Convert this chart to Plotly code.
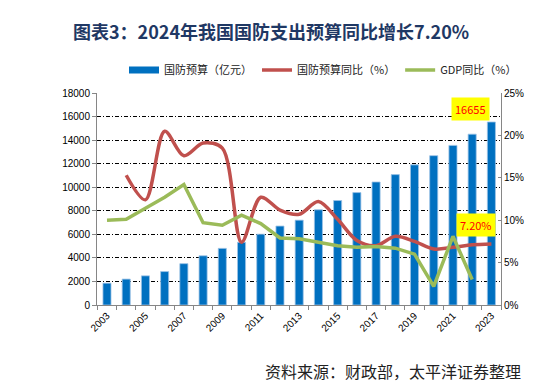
import plotly.graph_objects as go

years = list(range(2003, 2024))
budget = [1853, 2200, 2475, 2838, 3509, 4178, 4807, 5321, 6011, 6703, 7202,
          8082, 8869, 9544, 10444, 11070, 11899, 12680, 13553, 14505, 15537]
yoy_years = years[1:]
budget_yoy = [15.3, 12.4, 20.5, 17.6, 19.1, 18.5, 7.4, 12.7, 11.2, 10.7, 12.2,
              10.1, 7.6, 7.0, 8.1, 7.5, 6.6, 6.8, 7.1, 7.2]
gdp_years = years[:-1]
gdp_yoy = [10.0, 10.1, 11.4, 12.7, 14.2, 9.7, 9.4, 10.6, 9.6, 7.9, 7.8, 7.4,
           7.0, 6.8, 6.9, 6.7, 6.0, 2.2, 8.1, 3.0]
tick_years = years[::2]
left_ticks = list(range(0, 18001, 2000))
right_ticks = [0, 5, 10, 15, 20, 25]
label_budget = "16655"
label_yoy = "7.20%"

CJK = "Noto Sans CJK SC"
BLUE = "#0070C0"
fig = go.Figure()
fig.add_trace(go.Bar(
    x=years, y=budget, name="国防预算（亿元）", width=0.42, showlegend=False,
    legendgroup="b",
    marker=dict(color=BLUE, line=dict(color="#9DC3E6", width=0.8)),
))
# legend-only entry giving the wide rectangular swatch of the bar series
fig.add_trace(go.Scatter(
    x=[None], y=[None], name="国防预算（亿元）", legendgroup="b", mode="lines",
    line=dict(color=BLUE, width=7),
))
fig.add_trace(go.Scatter(
    x=yoy_years, y=budget_yoy, name="国防预算同比（%）", yaxis="y2",
    mode="lines", line=dict(color="#C0504D", width=3.5, shape="spline", smoothing=0.9),
))
fig.add_trace(go.Scatter(
    x=gdp_years, y=gdp_yoy, name="GDP同比（%）", yaxis="y2",
    mode="lines", line=dict(color="#9BBB59", width=3.5),
))

fig.add_annotation(x=2022, y=16655, xref="x", yref="y", text=label_budget,
                   showarrow=False, bgcolor="#FFFF00", font=dict(color="#FF0000", size=11, family=CJK),
                   borderpad=3, xshift=-2)
fig.add_annotation(x=2022.2, y=9.4, xref="x", yref="y2", text=label_yoy,
                   showarrow=False, bgcolor="#FFFF00", font=dict(color="#FF0000", size=11, family=CJK),
                   borderpad=3)

# title (centre at x~268px, y~32px)
fig.add_annotation(x=(263 - 89) / 404, y=1 + (85 - 32) / 212, xref="paper", yref="paper",
                   xanchor="center", yanchor="middle", yshift=9,
                   text="<b>图表3：2024年我国国防支出预算同比增长7.20%</b>",
                   showarrow=False, font=dict(color="#1F3864", size=18, family=CJK))
# source (right end at x~518px, centre y~370px)
fig.add_annotation(x=(515 - 89) / 404, y=-(370 - 297) / 212, xref="paper", yref="paper",
                   xanchor="right", yanchor="middle", yshift=7,
                   text="资料来源：财政部，太平洋证券整理", showarrow=False,
                   font=dict(color="#222222", size=16, family=CJK))

grid = dict(showgrid=True, gridcolor="#000000", gridwidth=1, griddash="4px,2px,1px,2px")
fig.update_layout(
    width=555, height=390,
    margin=dict(l=89, r=62, t=85, b=93, autoexpand=False),
    paper_bgcolor="white", plot_bgcolor="white",
    font=dict(family="Liberation Sans", size=10, color="#000000"),
    showlegend=True,
    legend=dict(orientation="h", xref="container", yref="container",
                x=116 / 555, y=1 - 62 / 390, xanchor="left", yanchor="middle",
                font=dict(family=CJK, size=11, color="#222222"),
                itemwidth=30, tracegroupgap=0, bgcolor="rgba(0,0,0,0)"),
    xaxis=dict(range=[2002.48, 2023.5], tickmode="array", tickvals=tick_years,
               ticktext=[str(v) for v in tick_years], tickangle=-45, ticks="",
               showline=True, linecolor="#868686", linewidth=1, showgrid=False,
               minor=dict(tickmode="linear", tick0=2002.5, dtick=1, ticks="outside",
                          ticklen=4, tickcolor="#868686", showgrid=False),
               tickfont=dict(size=10), zeroline=False),
    yaxis=dict(range=[0, 18000], tickvals=left_ticks, ticktext=[str(v) for v in left_ticks],
               ticks="outside", ticklen=4,
               tickcolor="#868686", showline=True, linecolor="#868686", linewidth=1,
               zeroline=False, tickfont=dict(size=10), **grid),
    yaxis2=dict(range=[0, 25], tickvals=right_ticks, ticktext=[f"{v}%" for v in right_ticks],
                overlaying="y", side="right", ticks="inside", ticklen=3, tickcolor="#868686",
                showline=True, linecolor="#868686", linewidth=1, showgrid=False,
                zeroline=False, tickfont=dict(size=10)),
)
fig.write_html("out.html")
